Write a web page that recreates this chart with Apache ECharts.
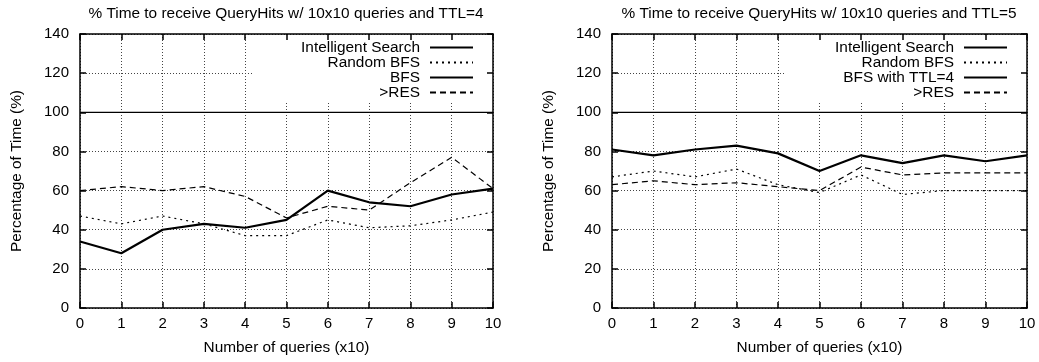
<!DOCTYPE html>
<html>
<head>
<meta charset="utf-8">
<script src="https://cdn.jsdelivr.net/npm/echarts@6/dist/echarts.min.js"></script>
<style>
html,body{margin:0;padding:0;background:#fff;}
#chart{width:1039px;height:362px;}
</style>
</head>
<body>
<div id="chart"></div>
<script>
// ---- data ----
const queries = [0,1,2,3,4,5,6,7,8,9,10];
const yTicks = [0,20,40,60,80,100,120,140];

const titleTTL4 = '% Time to receive QueryHits w/ 10x10 queries and TTL=4';
const titleTTL5 = '% Time to receive QueryHits w/ 10x10 queries and TTL=5';

const ttl4Intelligent = [34,28,40,43,41,45,60,54,52,58,61];
const ttl4RandomBFS   = [47,43,47,43,37,37,45,41,42,45,49];
const ttl4BFS         = [100,100,100,100,100,100,100,100,100,100,100];
const ttl4RES         = [60,62,60,62,57,46,52,50,64,77,61];

const ttl5Intelligent = [81,78,81,83,79,70,78,74,78,75,78];
const ttl5RandomBFS   = [67,70,67,71,63,59,68,58,60,60,60];
const ttl5BFS4        = [100,100,100,100,100,100,100,100,100,100,100];
const ttl5RES         = [63,65,63,64,62,60,72,68,69,69,69];

const namesTTL4 = ['Intelligent Search','Random BFS','BFS','>RES'];
const namesTTL5 = ['Intelligent Search','Random BFS','BFS with TTL=4','>RES'];

// ---- chart ----
const FONT = 'Liberation Sans, Arial, Helvetica, sans-serif';
const pairs = arr => queries.map((q,i)=>[q,arr[i]]);

const styles = [
  {width:2.2, type:'solid'},
  {width:1.2, type:[2,4]},
  {width:1.2, type:'solid'},
  {width:1.2, type:[6,4]}
];

const dotted = {color:'#444', width:1, type:[1,2]};

function mainX(gi){
  return {gridIndex:gi, type:'value', min:0, max:10, interval:1,
    name:'Number of queries (x10)', nameLocation:'middle', nameGap:32,
    nameTextStyle:{fontFamily:FONT, fontSize:15.4, color:'#000'},
    axisLine:{show:true, onZero:false, lineStyle:{color:'#000', width:1.5}},
    axisTick:{show:true, inside:true, length:6, lineStyle:{color:'#000', width:1.5}},
    axisLabel:{fontFamily:FONT, fontSize:15, color:'#000', margin:8},
    splitLine:{show:true, lineStyle:dotted}};
}
function topX(gi){
  return {gridIndex:gi, type:'value', min:0, max:10, interval:1, position:'top', z:5,
    axisLine:{show:true, onZero:false, lineStyle:{color:'#000', width:1.5}},
    axisTick:{show:true, inside:true, length:6, lineStyle:{color:'#000', width:1.5}},
    axisLabel:{show:false}, splitLine:{show:false}};
}
function mainY(gi){
  return {gridIndex:gi, type:'value', min:0, max:140, interval:20,
    name:'Percentage of Time (%)', nameLocation:'middle', nameGap:56,
    nameTextStyle:{fontFamily:FONT, fontSize:15.4, color:'#000'},
    axisLine:{show:true, onZero:false, lineStyle:{color:'#000', width:1.5}},
    axisTick:{show:true, inside:true, length:6, lineStyle:{color:'#000', width:1.5}},
    axisLabel:{fontFamily:FONT, fontSize:15, color:'#000', margin:11,
      formatter: v => yTicks.includes(v) ? String(v) : ''},
    splitLine:{show:true, lineStyle:dotted}};
}
function rightY(gi){
  return {gridIndex:gi, type:'value', min:0, max:140, interval:20, position:'right', z:5,
    axisLine:{show:true, onZero:false, lineStyle:{color:'#000', width:1.5}},
    axisTick:{show:true, inside:true, length:6, lineStyle:{color:'#000', width:1.5}},
    axisLabel:{show:false}, splitLine:{show:false}};
}

function mkSeries(names, datas, xi, yi){
  return names.map((n,i)=>({
    name:n, type:'line', xAxisIndex:xi, yAxisIndex:yi,
    data:pairs(datas[i]), symbol:'none', z:3, silent:true, animation:false,
    lineStyle:{color:'#000', width:styles[i].width, type:styles[i].type},
    itemStyle:{color:'#000'}
  }));
}

function mkLegend(names, right){
  return {
    data:names.map(n=>({name:n})), right:right, top:35,
    orient:'vertical', align:'right', itemWidth:43, itemHeight:12, itemGap:0,
    itemStyle:{opacity:0},
    textStyle:{fontFamily:FONT, fontSize:15.4, color:'#000', lineHeight:12, padding:[0,5,0,0]},
    selectedMode:false, z:6
  };
}

const option = {
  backgroundColor:'#fff',
  animation:false,
  title:[
    {text:titleTTL4, left:281, top:1, textAlign:'center',
     textStyle:{fontFamily:FONT, fontSize:15.4, fontWeight:'normal', color:'#000'}},
    {text:titleTTL5, left:814, top:1, textAlign:'center',
     textStyle:{fontFamily:FONT, fontSize:15.4, fontWeight:'normal', color:'#000'}}
  ],
  grid:[
    {left:80, right:546, top:34, bottom:54},
    {left:612, right:12, top:34, bottom:54}
  ],
  xAxis:[mainX(0), topX(0), mainX(1), topX(1)],
  yAxis:[mainY(0), rightY(0), mainY(1), rightY(1)],
  legend:[mkLegend(namesTTL4, 560), mkLegend(namesTTL5, 26)],
  graphic:[
    {type:'rect', shape:{x:254, y:35, width:238, height:67}, style:{fill:'#fff'}, z:1, silent:true},
    {type:'rect', shape:{x:786, y:35, width:240, height:67}, style:{fill:'#fff'}, z:1, silent:true}
  ],
  series:[].concat(
    mkSeries(namesTTL4, [ttl4Intelligent, ttl4RandomBFS, ttl4BFS, ttl4RES], 0, 0),
    mkSeries(namesTTL5, [ttl5Intelligent, ttl5RandomBFS, ttl5BFS4, ttl5RES], 2, 2)
  )
};

const chart = echarts.init(document.getElementById('chart'), null, {renderer:'canvas'});
chart.setOption(option);
</script>
</body>
</html>
